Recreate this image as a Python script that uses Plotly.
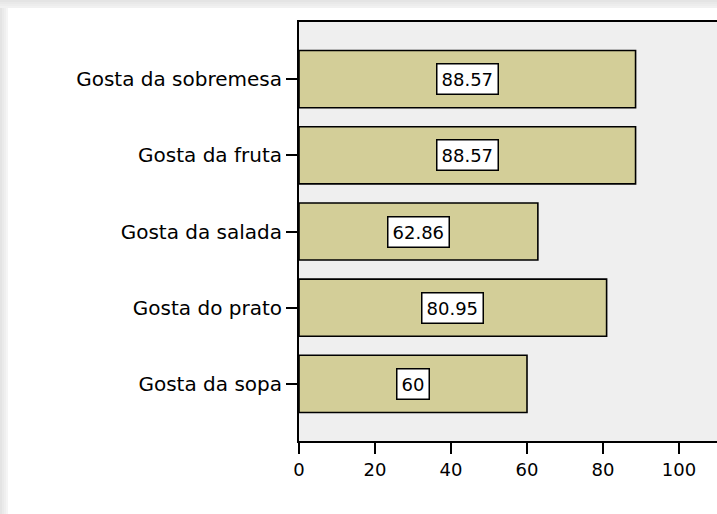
import plotly.graph_objects as go

# Survey results: share of respondents who liked each item (%)
categories = ["Gosta da sopa", "Gosta do prato", "Gosta da salada",
              "Gosta da fruta", "Gosta da sobremesa"]
values = [60, 80.95, 62.86, 88.57, 88.57]
x_ticks = [0, 20, 40, 60, 80, 100]

W, H = 717, 514
ML, MR, MT, MB = 299, 0, 22, 73
PW, PH = W - ML - MR, H - MT - MB

FONT = dict(family="DejaVu Sans, Arial, sans-serif", size=18, color="black")
CAT_FONT = dict(family="DejaVu Sans, Arial, sans-serif", size=20, color="black")
BAR_COLOR = "#D3CE98"


def px_x(px):
    return (px - ML) / PW


def px_y(py):
    return (H - MB - py) / PH


fig = go.Figure(go.Bar(
    x=values,
    y=categories,
    orientation="h",
    width=0.75,
    marker=dict(color=BAR_COLOR, line=dict(color="black", width=1.6)),
    hoverinfo="x+y",
))

# value labels in white boxes at the middle of each bar
for cat, v in zip(categories, values):
    fig.add_annotation(
        x=v / 2, y=cat, xref="x", yref="y",
        text=f"{v:g}", showarrow=False,
        font=FONT, bgcolor="white",
        bordercolor="black", borderwidth=1.5, borderpad=4,
    )

# soft grey drop-shadow strips along the top and left edges of the page
top_cols = ["#E4E4E4", "#E9E9E9", "#EDEDED", "#F1F1F1"]
left_cols = ["#E4E4E4", "#EAEAEA", "#EFEFEF", "#F5F5F5"]
shapes = []
for i, col in enumerate(top_cols):
    shapes.append(dict(type="rect", xref="paper", yref="paper",
                       x0=px_x(0), x1=px_x(W + 5),
                       y0=px_y(2 * i), y1=px_y(2 * i + 2),
                       fillcolor=col, line=dict(width=0), layer="below"))
for i, col in enumerate(left_cols):
    shapes.append(dict(type="rect", xref="paper", yref="paper",
                       x0=px_x(2 * i), x1=px_x(2 * i + 2),
                       y0=px_y(H + 5), y1=px_y(8),
                       fillcolor=col, line=dict(width=0), layer="below"))

fig.update_layout(
    width=W, height=H,
    margin=dict(l=ML, r=MR, t=MT, b=MB, pad=0),
    paper_bgcolor="white",
    plot_bgcolor="#EFEFEF",
    showlegend=False,
    font=FONT,
    shapes=shapes,
)

fig.update_xaxes(
    range=[0, 110],
    tickvals=x_ticks,
    ticktext=[str(t) for t in x_ticks],
    ticks="outside", ticklen=11, tickwidth=2, tickcolor="black",
    showline=True, linecolor="black", linewidth=2, mirror=True,
    showgrid=False, zeroline=False,
    tickfont=FONT,
)
fig.update_yaxes(
    type="category",
    categoryorder="array", categoryarray=categories,
    range=[-0.75, 4.75],
    ticks="outside", ticklen=11, tickwidth=2, tickcolor="black",
    showline=True, linecolor="black", linewidth=2,
    showgrid=False, zeroline=False,
    tickfont=CAT_FONT,
)

fig.write_html("out.html")
